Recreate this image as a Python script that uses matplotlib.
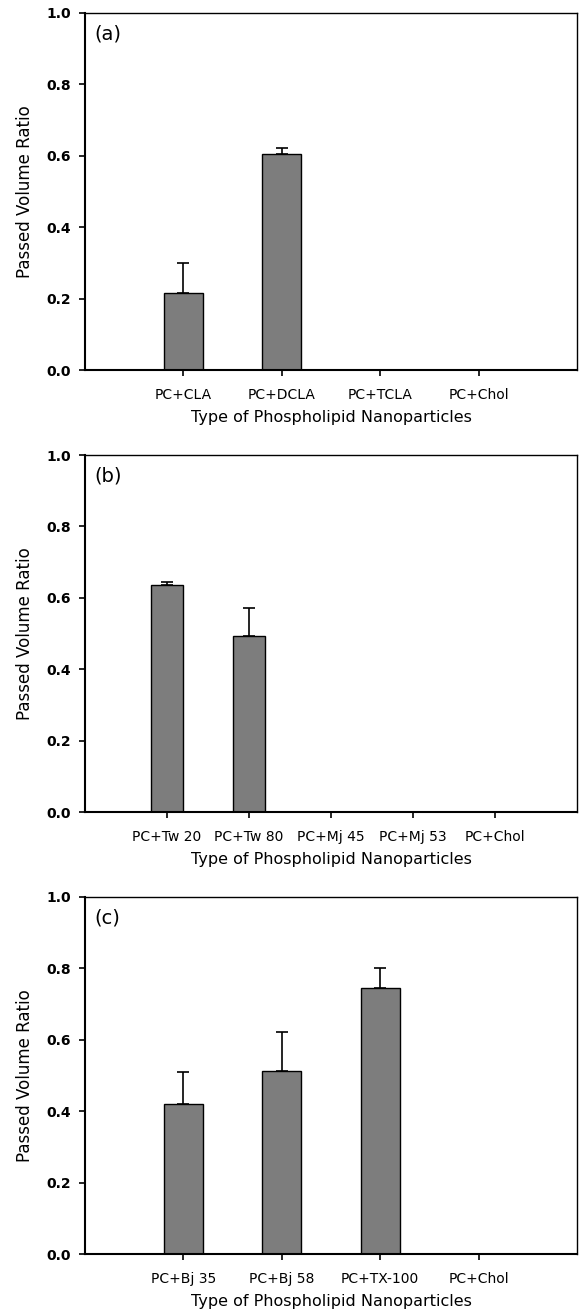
import matplotlib
matplotlib.use("Agg")
import matplotlib.pyplot as plt
import numpy as np

# panel (a)
labels_a = ["PC+CLA", "PC+DCLA", "PC+TCLA", "PC+Chol"]
vals_a = [0.216, 0.605, 0.0, 0.0]
err_a = [0.085, 0.018, 0.0, 0.0]

# panel (b)
labels_b = ["PC+Tw 20", "PC+Tw 80", "PC+Mj 45", "PC+Mj 53", "PC+Chol"]
vals_b = [0.636, 0.493, 0.0, 0.0, 0.0]
err_b = [0.009, 0.079, 0.0, 0.0, 0.0]

# panel (c)
labels_c = ["PC+Bj 35", "PC+Bj 58", "PC+TX-100", "PC+Chol"]
vals_c = [0.420, 0.514, 0.745, 0.0]
err_c = [0.089, 0.107, 0.055, 0.0]

yticks = [0.0, 0.2, 0.4, 0.6, 0.8, 1.0]

plt.rcParams['font.family'] = ['DejaVu Sans']

fig = plt.figure(figsize=(5.81, 13.13), dpi=100)
W, H = 581, 1313
left, width = 85 / W, 492 / W
tops = [13, 455, 897]
ht = 357

panels = [("(a)", labels_a, vals_a, err_a),
          ("(b)", labels_b, vals_b, err_b),
          ("(c)", labels_c, vals_c, err_c)]

for top, (tag, labs, vals, errs) in zip(tops, panels):
    ax = fig.add_axes([left, 1 - (top + ht) / H, width, ht / H])
    x = np.arange(1, len(labs) + 1)
    ax.bar(x, vals, width=0.4, color='#7d7d7d', edgecolor='black', linewidth=1.0)
    ax.errorbar(x, vals, yerr=[np.zeros(len(vals)), errs], fmt='none',
                ecolor='black', elinewidth=1.2, capsize=4, capthick=1.2)
    ax.set_xlim(0, len(labs) + 1)
    ax.set_ylim(0, 1.0)
    ax.set_xticks(x)
    ax.set_xticklabels(labs, fontsize=10)
    ax.set_yticks(yticks)
    ax.set_yticklabels([f"{t:.1f}" for t in yticks], fontsize=10, fontweight='bold')
    ax.tick_params(direction='out', length=4, width=1.2)
    ax.tick_params(axis='x', pad=9)
    ax.tick_params(axis='y', pad=6)
    ax.set_ylabel("Passed Volume Ratio", fontsize=12, labelpad=9)
    ax.set_xlabel("Type of Phospholipid Nanoparticles", fontsize=11.5, labelpad=6)
    ax.text(0.02, 0.941, tag, transform=ax.transAxes, fontsize=14,
            ha='left', va='center')
    for s in ['left', 'bottom']:
        ax.spines[s].set_linewidth(1.5)
    for s in ['top', 'right']:
        ax.spines[s].set_linewidth(1.0)

fig.savefig("out.png", dpi=100)
